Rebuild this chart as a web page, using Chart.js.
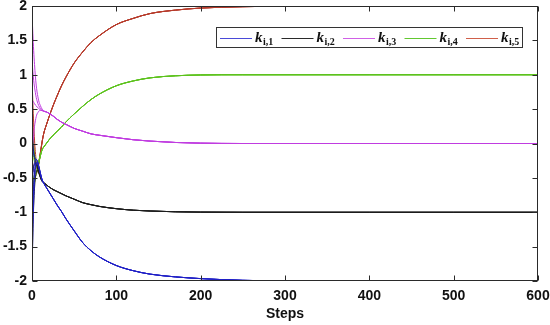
<!DOCTYPE html>
<html><head><meta charset="utf-8">
<script src="https://cdn.jsdelivr.net/npm/chart.js@4.4.0/dist/chart.umd.min.js"></script>
<style>html,body{margin:0;padding:0;background:#fff;}#c{display:block;}</style>
</head><body>
<canvas id="c" width="550" height="325"></canvas>
<script>
// ---- data ----
const steps = [0,1,2,3,4,5,6,7,8,10,12,14,17,20,25,30,35,40,50,60,70,80,100,120,140,170,200,250,300,400,500,600];
const xTicks = [0,100,200,300,400,500,600];
const yTicks = [-2,-1.5,-1,-0.5,0,0.5,1,1.5,2];
const legendSubs = ['i,1','i,2','i,3','i,4','i,5'];

// common converged part (steps 14 .. 600)
const blueTail    = [-0.58,-0.64,-0.70,-0.80,-0.90,-0.99,-1.09,-1.27,-1.44,-1.56,-1.65,-1.775,-1.85,-1.90,-1.94,-1.965,-1.99,-1.998,-2,-2,-2];
const blackTail   = [-0.57,-0.60,-0.63,-0.67,-0.70,-0.73,-0.76,-0.81,-0.86,-0.89,-0.915,-0.948,-0.97,-0.982,-0.993,-0.998,-1,-1,-1,-1,-1];
const magentaTail = [0.47,0.46,0.44,0.40,0.35,0.31,0.28,0.22,0.18,0.14,0.12,0.085,0.055,0.035,0.015,0.005,0,0,0,0,0];
const greenTail   = [-0.05,0.0,0.05,0.12,0.18,0.24,0.31,0.43,0.54,0.64,0.72,0.84,0.91,0.955,0.985,0.997,1,1,1,1,1];
const redTail     = [0.15,0.27,0.38,0.55,0.70,0.84,0.96,1.17,1.33,1.47,1.57,1.73,1.82,1.89,1.94,1.97,1.99,1.997,2,2,2];

// transient part of each agent (steps 0 .. 12)
const blueHeads = [
  [-2.0,-1.3,-0.85,-0.55,-0.38,-0.30,-0.28,-0.30,-0.34,-0.44,-0.53],
  [-1.6,-1.0,-0.65,-0.45,-0.33,-0.28,-0.27,-0.29,-0.34,-0.44,-0.53],
  [-0.6,-0.45,-0.35,-0.28,-0.24,-0.23,-0.24,-0.27,-0.32,-0.43,-0.53],
  [0.1,-0.05,-0.15,-0.2,-0.22,-0.23,-0.25,-0.28,-0.33,-0.44,-0.53]
];
const blackHeads = [
  [-1.4,-0.9,-0.6,-0.42,-0.32,-0.28,-0.29,-0.33,-0.38,-0.47,-0.54],
  [-0.5,-0.4,-0.33,-0.3,-0.29,-0.30,-0.33,-0.37,-0.41,-0.49,-0.55],
  [-1.9,-1.3,-0.9,-0.65,-0.5,-0.42,-0.39,-0.40,-0.43,-0.50,-0.55],
  [0.2,0.0,-0.12,-0.2,-0.26,-0.3,-0.34,-0.38,-0.42,-0.49,-0.55]
];
const magentaHeads = [
  [1.9,1.6,1.35,1.15,0.98,0.85,0.75,0.68,0.62,0.55,0.50],
  [1.2,1.05,0.92,0.82,0.74,0.67,0.62,0.58,0.55,0.51,0.48],
  [0.6,0.62,0.6,0.58,0.56,0.55,0.53,0.52,0.51,0.49,0.48],
  [-0.3,-0.05,0.12,0.25,0.33,0.39,0.43,0.45,0.47,0.48,0.48]
];
const greenHeads = [
  [-0.8,-0.6,-0.5,-0.45,-0.42,-0.40,-0.37,-0.33,-0.28,-0.18,-0.09],
  [0.3,0.1,-0.05,-0.15,-0.22,-0.27,-0.29,-0.28,-0.25,-0.17,-0.09],
  [-1.2,-0.9,-0.7,-0.58,-0.5,-0.45,-0.4,-0.35,-0.29,-0.18,-0.09],
  [0.05,-0.1,-0.2,-0.28,-0.33,-0.35,-0.34,-0.31,-0.27,-0.17,-0.09]
];
const redHeads = [
  [0.6,0.3,0.05,-0.15,-0.28,-0.35,-0.38,-0.36,-0.30,-0.15,0.02],
  [-0.2,-0.3,-0.38,-0.42,-0.44,-0.43,-0.40,-0.35,-0.28,-0.12,0.03],
  [-1.5,-1.0,-0.7,-0.55,-0.48,-0.45,-0.42,-0.37,-0.30,-0.14,0.02],
  [1.0,0.6,0.3,0.05,-0.12,-0.25,-0.32,-0.33,-0.28,-0.13,0.03]
];

// ---- styles ----
const groups = [
  {heads: blueHeads, tail: blueTail, color: '#1f1fc6', legendColor: '#4a4ad8'},
  {heads: blackHeads, tail: blackTail, color: '#1c1c1c', legendColor: '#2a2a2a'},
  {heads: magentaHeads, tail: magentaTail, color: '#c03ce0', legendColor: '#d060e6'},
  {heads: greenHeads, tail: greenTail, color: '#5cc21c', legendColor: '#62c830'},
  {heads: redHeads, tail: redTail, color: '#b63a2a', legendColor: '#d0604a'}
];

const datasets = [];
groups.forEach(g => {
  g.heads.forEach(h => {
    const vals = h.concat(g.tail);
    datasets.push({
      data: steps.map((s, i) => ({x: s, y: vals[i]})),
      borderColor: g.color,
      borderWidth: 1,
      pointRadius: 0,
      fill: false,
      cubicInterpolationMode: 'monotone'
    });
  });
});

const tickFont = {family: '"Liberation Sans", Arial, sans-serif', size: 14, weight: 'bold'};

const framePlugin = {
  id: 'frame',
  afterDatasetsDraw(chart) {
    const {ctx, chartArea: a, scales: {x, y}} = chart;
    ctx.save();
    ctx.strokeStyle = '#2a2a2a';
    ctx.lineWidth = 1;
    const L = Math.round(a.left) + 0.5, R = Math.round(a.right) - 0.5;
    const T = Math.round(a.top) + 0.5, B = Math.round(a.bottom) - 0.5;
    ctx.strokeRect(L, T, R - L, B - T);
    ctx.beginPath();
    xTicks.forEach(v => {
      const px = Math.round(x.getPixelForValue(v)) + 0.5;
      ctx.moveTo(px, B); ctx.lineTo(px, B - 5);
      ctx.moveTo(px, T); ctx.lineTo(px, T + 5);
    });
    yTicks.forEach(v => {
      const py = Math.round(y.getPixelForValue(v)) + 0.5;
      ctx.moveTo(L, py); ctx.lineTo(L + 5, py);
      ctx.moveTo(R, py); ctx.lineTo(R - 5, py);
    });
    ctx.stroke();

    // legend
    const kFont = 'italic bold 15px "Liberation Serif", "DejaVu Serif", serif';
    const sFont = 'bold 10px "Liberation Serif", "DejaVu Serif", serif';
    const pitch = 61.5, lineLen = 32, padL = 4;
    const boxW = 307, boxH = 21;
    const boxR = Math.round(a.right) - 15, boxL = boxR - boxW;
    const boxT = Math.round(a.top) + 21;
    ctx.fillStyle = '#fff';
    ctx.fillRect(boxL, boxT, boxW, boxH);
    ctx.strokeStyle = '#333';
    ctx.lineWidth = 1;
    ctx.strokeRect(boxL + 0.5, boxT + 0.5, boxW - 1, boxH - 1);
    const cy = boxT + boxH / 2;
    legendSubs.forEach((s, i) => {
      const x0 = boxL + padL + i * pitch;
      ctx.strokeStyle = groups[i].legendColor;
      ctx.lineWidth = 1;
      ctx.beginPath();
      ctx.moveTo(x0, Math.round(cy) + 0.5); ctx.lineTo(x0 + lineLen, Math.round(cy) + 0.5);
      ctx.stroke();
      ctx.fillStyle = '#111';
      ctx.textBaseline = 'alphabetic';
      ctx.font = kFont;
      const tx = x0 + lineLen + 3;
      ctx.fillText('k', tx, cy + 4);
      const kw = ctx.measureText('k').width;
      ctx.font = sFont;
      ctx.fillText(s, tx + kw + 0.5, cy + 7);
    });
    ctx.restore();
  }
};

new Chart(document.getElementById('c'), {
  type: 'line',
  data: {datasets},
  plugins: [framePlugin],
  options: {
    responsive: false,
    animation: false,
    events: [],
    layout: {padding: {top: 6, right: 12, left: 0, bottom: 0}},
    plugins: {legend: {display: false}, tooltip: {enabled: false}},
    scales: {
      x: {
        type: 'linear', min: 0, max: 600,
        afterFit(s) { s.height = 44; s.paddingLeft = 0; s.paddingRight = 0; },
        grid: {display: false, drawTicks: false},
        border: {display: false},
        ticks: {stepSize: 100, padding: 7, autoSkip: false, maxRotation: 0, font: tickFont, color: '#111', callback: v => String(v)},
        title: {display: true, text: 'Steps', font: tickFont, color: '#111', padding: {top: 0, bottom: 2}}
      },
      y: {
        type: 'linear', min: -2, max: 2,
        afterFit(s) { s.width = 32; s.paddingTop = 0; s.paddingBottom = 0; },
        grid: {display: false, drawTicks: false},
        border: {display: false},
        ticks: {stepSize: 0.5, padding: 5, autoSkip: false, font: tickFont, color: '#111', callback: v => String(v)}
      }
    }
  }
});
</script>
</body></html>
